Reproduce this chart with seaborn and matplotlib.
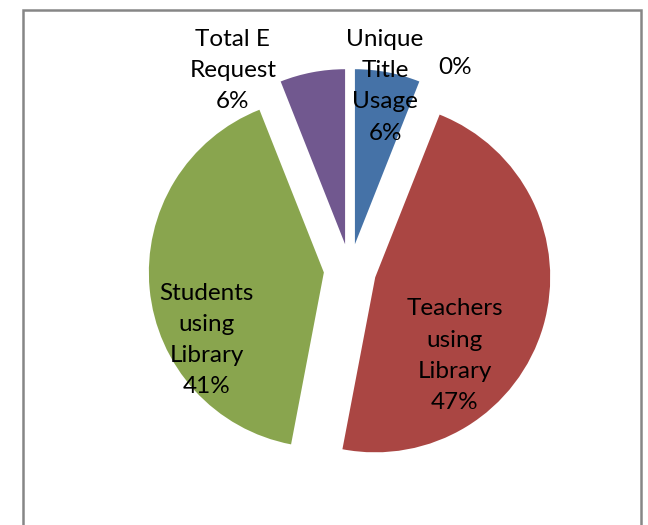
import numpy as np
import matplotlib
matplotlib.use("Agg")
import matplotlib.pyplot as plt
import matplotlib.patches as mpatches
import seaborn as sns

# data
categories = ["Unique\nTitle\nUsage", "", "Teachers\nusing\nLibrary", "Students\nusing\nLibrary", "Total E\nRequest"]
values = [6, 0, 47, 41, 6]
pct_labels = ["6%", "0%", "47%", "41%", "6%"]

colors = ["#4572A7", "#4BACC6", "#AA4643", "#89A54E", "#71588F"]
# label spots (x, y) in axes data units, Excel "best fit" style
label_pos = [(0.20, 1.05), (0.60, 1.155), (0.60, -0.49), (-0.82, -0.40), (-0.67, 1.14)]


def main():
    sns.set_theme(style="white")
    plt.rcParams["font.family"] = ["Lato", "DejaVu Sans"]

    fig = plt.figure(figsize=(6.48, 5.25), dpi=100)
    ax = fig.add_axes([0, 0, 1, 1])

    r = 175.0  # px per unit
    cx, cy = 350.0, 255.0
    wedges, _ = ax.pie(values, colors=colors, startangle=90, counterclock=False,
                       explode=[0.15] * len(values), radius=1.0,
                       wedgeprops=dict(linewidth=0))

    for cat, pct, (x, y) in zip(categories, pct_labels, label_pos):
        txt = f"{cat}\n{pct}" if cat else pct
        ax.text(x, y, txt, ha="center", va="center", fontsize=17.5,
                color="black", linespacing=1.6)

    ax.set_xlim(-cx / r, (648 - cx) / r)
    ax.set_ylim(-cy / r, (525 - cy) / r)
    ax.set_aspect("equal")
    ax.axis("off")

    # chart area border
    border = mpatches.Rectangle((23 / 648, -0.05), (641 - 23) / 648, 1.05 - 10 / 525,
                                transform=fig.transFigure, fill=False,
                                edgecolor="#868686", linewidth=1.8)
    fig.patches.append(border)

    fig.savefig("out.png", dpi=100)
    plt.close(fig)


if __name__ == "__main__":
    main()
